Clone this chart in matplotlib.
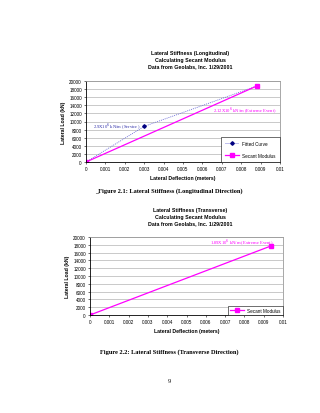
import numpy as np
import matplotlib.pyplot as plt

# longitudinal direction
long_fit_x = [0, 0.003, 0.0088]
long_fit_y = [0, 8800, 18750]
long_sec_x = [0, 0.0088]
long_sec_y = [0, 18750]

# transverse direction
trans_sec_x = [0, 0.0094]
trans_sec_y = [0, 17750]

xticks = [0, 0.001, 0.002, 0.003, 0.004, 0.005, 0.006, 0.007, 0.008, 0.009, 0.01]
xtick_labels = ['0', '0.001', '0.002', '0.003', '0.004', '0.005', '0.006', '0.007', '0.008', '0.009', '0.01']
yticks = list(range(0, 20001, 2000))

W, H = 320, 414
fig = plt.figure(figsize=(W / 100, H / 100), dpi=100)
fig.patch.set_facecolor('white')

sans = 'Liberation Sans'
serif = 'Liberation Serif'
magenta = '#ff00ff'
navy = '#000080'


def box(l, t, r, b):
    return [l / W, 1 - b / H, (r - l) / W, (b - t) / H]


def style_axes(ax):
    ax.set_xlim(0, 0.01)
    ax.set_ylim(0, 20000)
    ax.set_xticks(xticks)
    ax.set_xticklabels(xtick_labels)
    ax.set_yticks(yticks)
    ax.set_yticklabels([str(v) for v in yticks])
    ax.tick_params(labelsize=3.3, length=1.5, width=0.4, pad=1.5, colors='black')
    for lab in ax.get_xticklabels() + ax.get_yticklabels():
        lab.set_family(sans)
    ax.grid(axis='y', color='#a0a0a0', linewidth=0.4)
    ax.set_axisbelow(True)
    for s in ax.spines.values():
        s.set_color('#9a9a9a')
        s.set_linewidth(0.6)
    ax.spines['left'].set_color('black')
    ax.spines['bottom'].set_color('black')
    ax.set_xlabel('Lateral Deflection (meters)', fontsize=3.7, fontweight='bold', family=sans, labelpad=2.5)
    ax.set_ylabel('Lateral Load (kN)', fontsize=3.7, fontweight='bold', family=sans, labelpad=2.5)


# --- top chart ---
ax1 = fig.add_axes(box(86, 82, 280, 163))
style_axes(ax1)
ax1.plot(long_fit_x, long_fit_y, linestyle=(0, (1.2, 1.2)), color='#6a6ad8', linewidth=0.6,
         marker='D', markersize=1.8, markerfacecolor=navy, markeredgecolor=navy, label='Fitted Curve')
ax1.plot(long_sec_x, long_sec_y, color=magenta, linewidth=0.9,
         marker='s', markersize=2.4, label='Secant Modulus')
ax1.text(0.0028, long_fit_y[1], r'2.9X10$^6$ kN/m (Service)', fontsize=3.3, family=serif,
         color='#3333aa', ha='right', va='center')
ax1.text(0.0098, 12800, r'2.12X10$^6$ kN/m (Extreme Event)', fontsize=3.3, family=serif,
         color=magenta, ha='right', va='center')
leg1 = ax1.legend(loc='lower right', prop={'family': sans, 'size': 3.3}, fancybox=False,
                  edgecolor='black', framealpha=1, borderpad=0.8, labelspacing=1.5,
                  handlelength=3, borderaxespad=0.1)
leg1.get_frame().set_linewidth(0.4)
fig.text(190 / W, 1 - 51 / H, 'Lateral Stiffness (Longitudinal)\nCalculating Secant Modulus\nData from Geolabs, Inc. 1/29/2001',
         ha='center', va='top', fontsize=3.75, fontweight='bold', family=sans, linespacing=1.4)
fig.text(169 / W, 1 - 191 / H, '_Figure 2.1: Lateral Stiffness (Longitudinal Direction)',
         ha='center', va='center', fontsize=4.55, fontweight='bold', family=serif)

# --- bottom chart ---
ax2 = fig.add_axes(box(90, 238, 283, 316))
style_axes(ax2)
ax2.plot(trans_sec_x, trans_sec_y, color=magenta, linewidth=0.9,
         marker='s', markersize=2.4, label='Secant Modulus')
ax2.text(0.0095, 18700, r'1.89X10$^6$ kN/m (Extreme Event)', fontsize=3.3, family=serif,
         color=magenta, ha='right', va='center')
leg2 = ax2.legend(loc='lower right', prop={'family': sans, 'size': 3.3}, fancybox=False,
                  edgecolor='black', framealpha=1, borderpad=0.4, handlelength=3,
                  borderaxespad=0.1)
leg2.get_frame().set_linewidth(0.4)
fig.text(190 / W, 1 - 208 / H, 'Lateral Stiffness (Transverse)\nCalculating Secant Modulus\nData from Geolabs, Inc. 1/29/2001',
         ha='center', va='top', fontsize=3.75, fontweight='bold', family=sans, linespacing=1.4)
fig.text(169 / W, 1 - 352 / H, 'Figure 2.2: Lateral Stiffness (Transverse Direction)',
         ha='center', va='center', fontsize=4.55, fontweight='bold', family=serif)

fig.text(169 / W, 1 - 382 / H, '9', ha='center', va='center', fontsize=4.5, family=serif)

fig.savefig('out.png', dpi=100, facecolor='white')
